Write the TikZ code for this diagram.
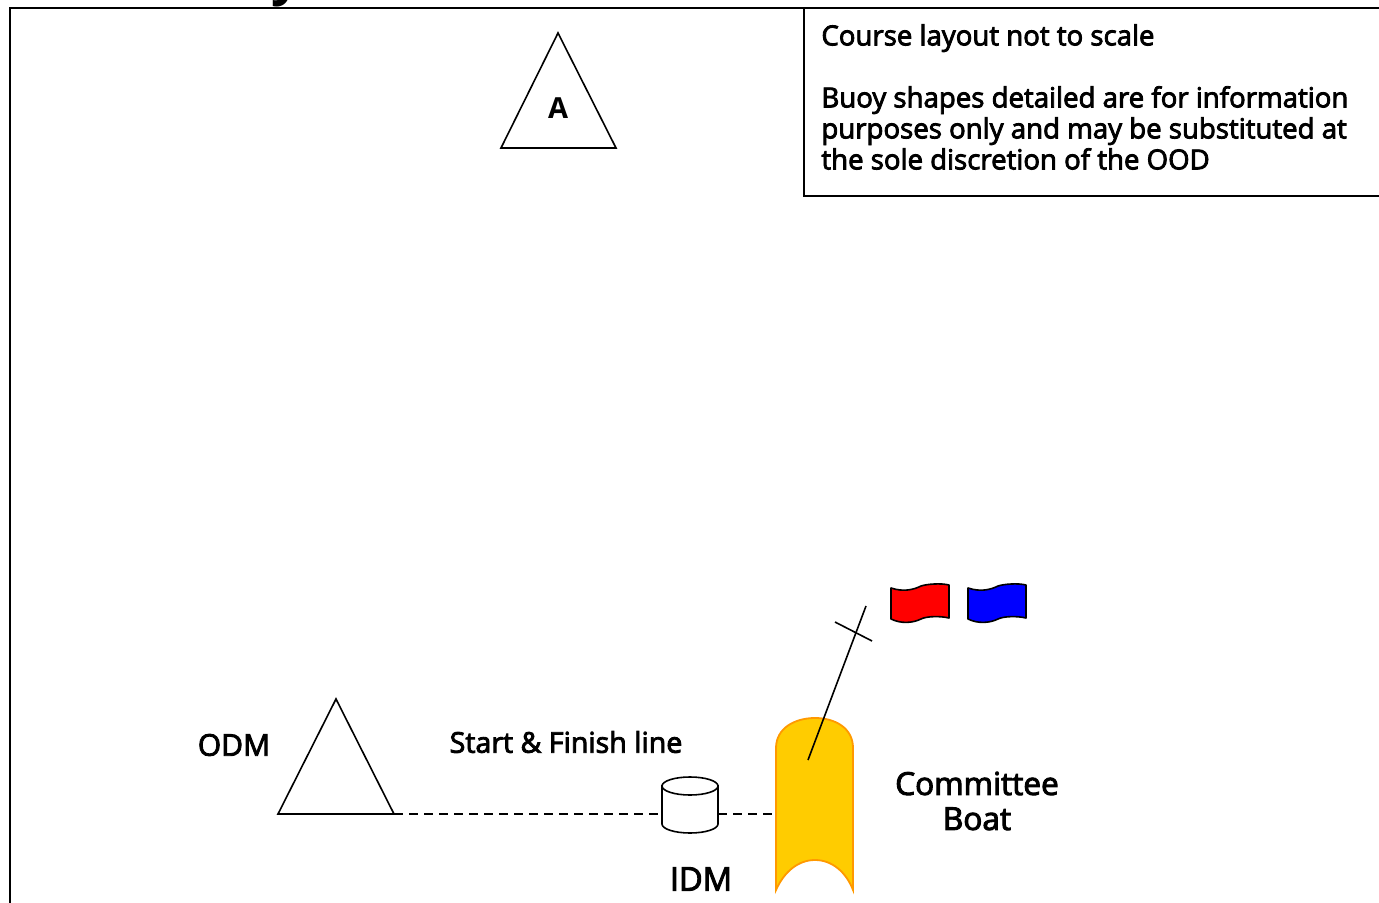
\documentclass[tikz,border=0pt]{standalone}
\usepackage{fontspec}
\setmainfont{Open Sans}[UprightFeatures={FakeBold=3}]
\begin{document}
\begin{tikzpicture}[x=0.5pt,y=-0.5pt,
  line/.style={draw=black,line width=0.8pt},
  buoy/.style={draw=black,line width=0.8pt,fill=white,line join=miter},
  lbl/.style={inner sep=0pt,font=\fontsize{15}{18}\selectfont},
  boatshape/.style={draw=boatedge,fill=yellowboat,line width=0.9pt},
  flagshape/.style={draw=black,line width=0.8pt,line join=round},
  startline/.style={draw=black,line width=0.6pt,dash pattern=on 4.5pt off 3pt}]
\definecolor{yellowboat}{HTML}{FFCC00}
\definecolor{boatedge}{HTML}{FF9900}
\useasboundingbox (0,0) rectangle (1379,903);
\begin{scope}
\clip (0,0) rectangle (1379,903);
\node[anchor=base,inner sep=0pt,font=\fontsize{26}{30}\bfseries\selectfont] (title) at (286,-5) {y};
\end{scope}
% frame
\draw[line] (10,903) -- (10,8) -- (1379,8);
\draw[line] (804,8) -- (804,196) -- (1379,196);
\node[anchor=north west,inner sep=0pt,align=left,font=\fontsize{13.8}{15.5}\selectfont] (note) at (821,24)
 {Course layout not to scale\\[15.5pt]Buoy shapes detailed are for information\\purposes only and may be substituted at\\the sole discretion of the OOD};
% mark A
\draw[buoy] (558,33) -- (616,148) -- (501,148) -- cycle;
\node[lbl,font=\fontsize{14.5}{17}\bfseries\selectfont] (A) at (558,108) {A};
% ODM
\draw[buoy] (336,699) -- (394,814) -- (278,814) -- cycle;
\coordinate (odm) at (394,814);
\node[lbl] (odmlbl) at (234,745) {ODM};
% IDM cylinder
\coordinate (idmL) at (662,814);
\coordinate (idmR) at (718,814);
\draw[buoy] (662,786) -- (662,824) arc[start angle=180,end angle=0,x radius=28,y radius=9] -- (718,786) -- cycle;
\draw[buoy] (690,786) ellipse[x radius=28,y radius=9];
\node[lbl,font=\fontsize{16.3}{18}\selectfont] (idmlbl) at (701,879) {IDM};
% boat
\coordinate (boatL) at (776,814);
\draw[boatshape] (776,890) -- (776,748) .. controls (776,728) and (795,718) .. (815,718) .. controls (835,718) and (853,728) .. (853,748) -- (853,890) .. controls (846,872) and (832,860) .. (815,860) .. controls (798,860) and (784,872) .. (776,890) -- cycle;
\coordinate (mastfoot) at (808,760);
\coordinate (masttop) at (866,606);
\coordinate (yardA) at (835,622);
\coordinate (yardB) at (872,641);
\draw[line] (mastfoot) -- (masttop);
\draw[line] (yardA) -- (yardB);
% start line
\draw[startline] (odm) -- (idmL);
\draw[startline] (idmR) -- (boatL);
\node[lbl,font=\fontsize{14.3}{16}\selectfont] (sfl) at (566,742) {Start \& Finish line};
\node[lbl,align=center,font=\fontsize{15.8}{17.5}\selectfont] (cb) at (977,801) {Committee\\Boat};
% flags
\foreach \fx/\fc in {891/red,968/blue}{
\draw[flagshape,fill=\fc] (\fx,588) .. controls (\fx+12,592) and (\fx+22,590) .. (\fx+30,586) .. controls (\fx+36,584) and (\fx+50,583) .. (\fx+58,585) -- (\fx+58,618) .. controls (\fx+50,616) and (\fx+36,616) .. (\fx+30,619) .. controls (\fx+22,623) and (\fx+10,624) .. (\fx,619) -- cycle;
}
\end{tikzpicture}
\end{document}
